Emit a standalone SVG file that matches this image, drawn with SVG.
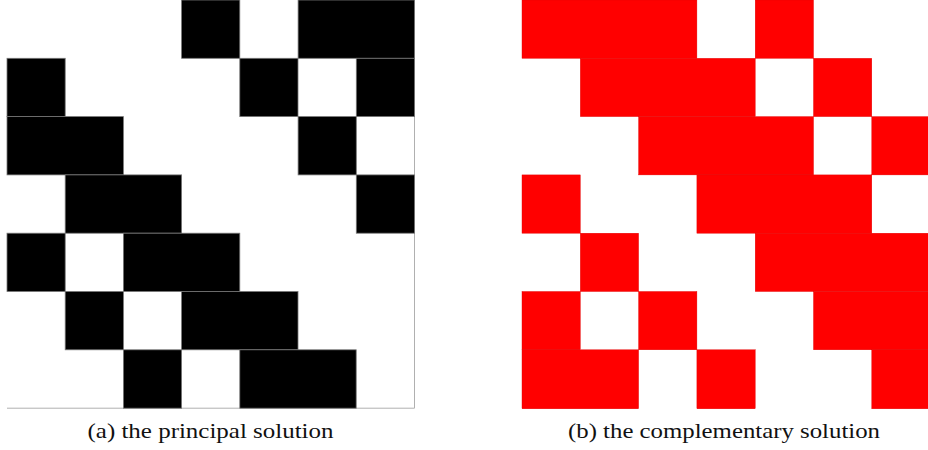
<svg xmlns="http://www.w3.org/2000/svg" width="928" height="450" viewBox="0 0 928 450">
<style>
.b{fill:#000;stroke:#777;stroke-width:0.8}
.r{fill:#ff0000;stroke:#e00000;stroke-width:0.4}
.cap{font-family:"Liberation Serif","DejaVu Serif",serif;font-size:21px;fill:#111;text-anchor:middle}
.frame{stroke:#b0b0b0;stroke-width:1;fill:none}
</style>
<rect width="928" height="450" fill="#fff"/>
<g id="principal">
<path class="frame" d="M7,408.2 H414.5 V0"/>
<g id="principal-cells">
<rect class="b" x="181.6" y="0" width="58.2" height="58.3"/>
<rect class="b" x="298.1" y="0" width="116.4" height="58.3"/>
<rect class="b" x="7" y="58.3" width="58.2" height="58.3"/>
<rect class="b" x="239.8" y="58.3" width="58.2" height="58.3"/>
<rect class="b" x="356.3" y="58.3" width="58.2" height="58.3"/>
<rect class="b" x="7" y="116.6" width="116.4" height="58.3"/>
<rect class="b" x="298.1" y="116.6" width="58.2" height="58.3"/>
<rect class="b" x="65.2" y="174.9" width="116.4" height="58.3"/>
<rect class="b" x="356.3" y="174.9" width="58.2" height="58.3"/>
<rect class="b" x="7" y="233.2" width="58.2" height="58.3"/>
<rect class="b" x="123.4" y="233.2" width="116.4" height="58.3"/>
<rect class="b" x="65.2" y="291.5" width="58.2" height="58.3"/>
<rect class="b" x="181.6" y="291.5" width="116.4" height="58.3"/>
<rect class="b" x="123.4" y="349.8" width="58.2" height="58.4"/>
<rect class="b" x="239.8" y="349.8" width="116.4" height="58.4"/>
</g>
<text id="caption-a" class="cap" x="210.5" y="438" textLength="246" lengthAdjust="spacingAndGlyphs">(a) the principal solution</text>
</g>
<g id="complementary">
<g id="complementary-cells">
<rect class="r" x="522" y="0" width="174.9" height="58.3"/>
<rect class="r" x="755.2" y="0" width="58.3" height="58.3"/>
<rect class="r" x="580.3" y="58.3" width="174.9" height="58.3"/>
<rect class="r" x="813.5" y="58.3" width="58.3" height="58.3"/>
<rect class="r" x="638.6" y="116.6" width="174.9" height="58.3"/>
<rect class="r" x="871.8" y="116.6" width="58.3" height="58.3"/>
<rect class="r" x="522" y="174.9" width="58.3" height="58.3"/>
<rect class="r" x="696.9" y="174.9" width="174.9" height="58.3"/>
<rect class="r" x="580.3" y="233.2" width="58.3" height="58.3"/>
<rect class="r" x="755.2" y="233.2" width="174.9" height="58.3"/>
<rect class="r" x="522" y="291.5" width="58.3" height="58.3"/>
<rect class="r" x="638.6" y="291.5" width="58.3" height="58.3"/>
<rect class="r" x="813.5" y="291.5" width="116.6" height="58.3"/>
<rect class="r" x="522" y="349.8" width="116.6" height="59"/>
<rect class="r" x="696.9" y="349.8" width="58.3" height="59"/>
<rect class="r" x="871.8" y="349.8" width="58.3" height="59"/>
</g>
<text id="caption-b" class="cap" x="724" y="438" textLength="312" lengthAdjust="spacingAndGlyphs">(b) the complementary solution</text>
</g>
</svg>
